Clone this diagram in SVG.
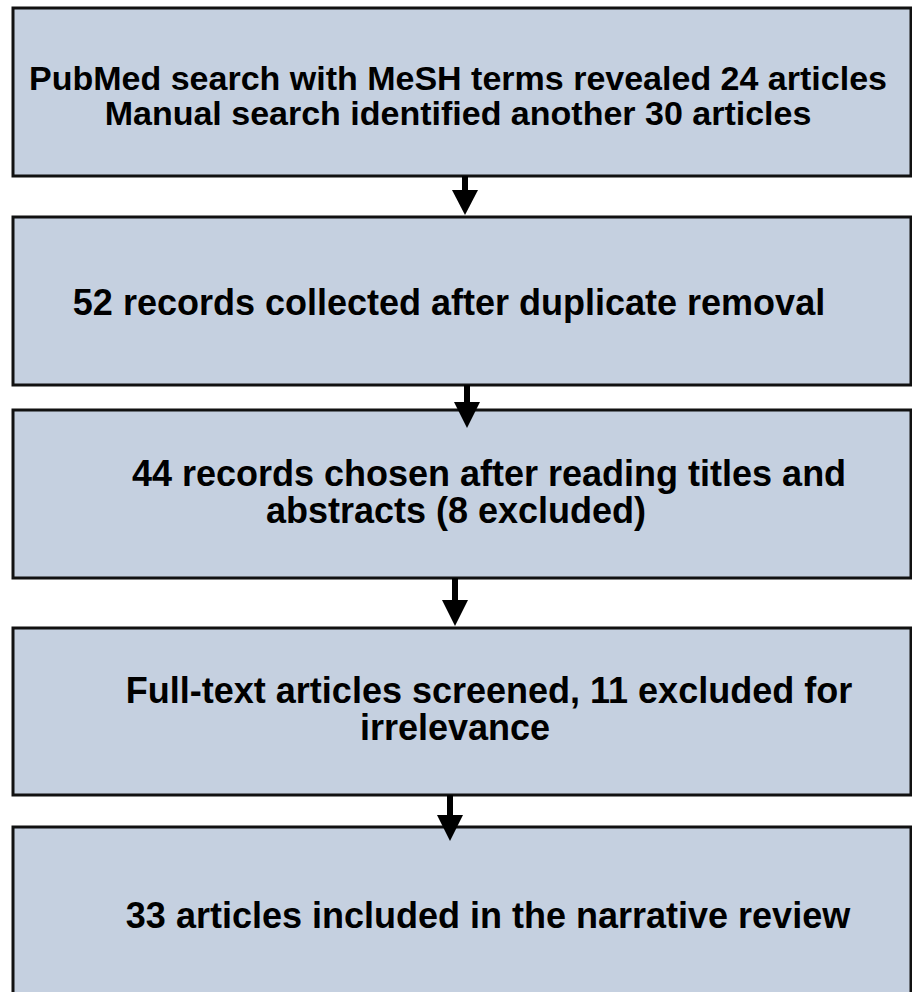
<svg xmlns="http://www.w3.org/2000/svg" width="912" height="992" viewBox="0 0 912 992">
<style>
.box{fill:#c5d0e0;stroke:#111;stroke-width:3}
.t{font-family:"Liberation Sans",Arial,sans-serif;font-weight:bold;font-size:36px;fill:#000;text-anchor:middle}
.t1{font-size:34px}
.shaft{stroke:#000;stroke-width:6}
.head{fill:#000}
</style>
<rect width="912" height="992" fill="#fff"/>
<g id="node1"><rect class="box" x="13" y="8" width="898" height="168"/>
<text class="t t1" x="458" y="90">PubMed search with MeSH terms revealed 24 articles</text>
<text class="t t1" x="458" y="125">Manual search identified another 30 articles</text></g>
<g id="node2"><rect class="box" x="13" y="217" width="898" height="168"/>
<text class="t" x="449" y="315">52 records collected after duplicate removal</text></g>
<g id="node3"><rect class="box" x="13" y="410" width="898" height="168"/>
<text class="t" x="489" y="486">44 records chosen after reading titles and</text>
<text class="t" x="456" y="523">abstracts (8 excluded)</text></g>
<g id="node4"><rect class="box" x="13" y="628" width="898" height="167"/>
<text class="t" x="489" y="703">Full-text articles screened, 11 excluded for</text>
<text class="t" x="455" y="740">irrelevance</text></g>
<g id="node5"><rect class="box" x="13" y="827" width="898" height="175"/>
<text class="t" x="488" y="928">33 articles included in the narrative review</text></g>
<g id="connectors">
<line class="shaft" x1="465" y1="176" x2="465" y2="192"/><polygon class="head" points="452,190 478,190 465,215"/>
<line class="shaft" x1="467" y1="385" x2="467" y2="404"/><polygon class="head" points="454,402 480,402 467,428"/>
<line class="shaft" x1="455" y1="578" x2="455" y2="602"/><polygon class="head" points="442,600 468,600 455,626"/>
<line class="shaft" x1="450" y1="795" x2="450" y2="818"/><polygon class="head" points="437,815 463,815 450,841"/>
</g>
</svg>
